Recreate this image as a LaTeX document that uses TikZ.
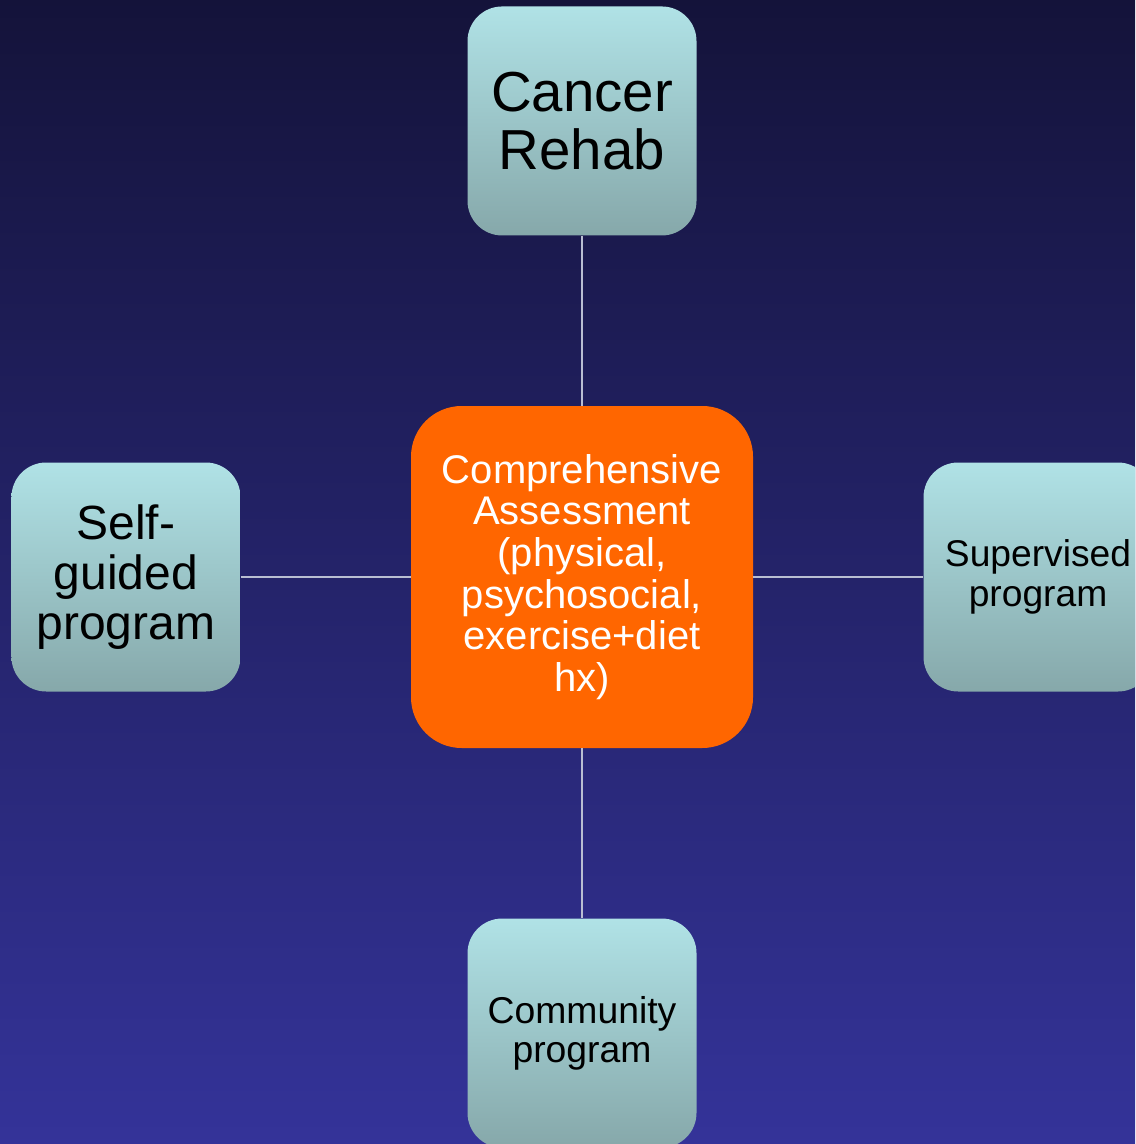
\documentclass[tikz,border=0pt]{standalone}
\usepackage{fontspec}
\setmainfont{Liberation Sans}
\usetikzlibrary{positioning}
\definecolor{bgtop}{RGB}{20,19,58}
\definecolor{bgbot}{RGB}{52,51,153}
\definecolor{boxtop}{RGB}{176,226,230}
\definecolor{boxbot}{RGB}{134,168,170}
\definecolor{hub}{RGB}{255,102,0}
\definecolor{wire}{RGB}{185,190,210}

\begin{document}
\begin{tikzpicture}[x=0.75pt,y=-0.75pt,
 B/.style={rounded corners=26pt,top color=boxtop,bottom color=boxbot,minimum width=171.75pt,minimum height=171.75pt,inner sep=0pt,align=center,text=black},
 W/.style={draw=wire,line width=1.1pt}]
 \fill[top color=bgtop,bottom color=bgbot] (0,0) rectangle (1135,1144);
 \clip (0,0) rectangle (1135,1144);
 \node[fill=hub,rounded corners=38pt,minimum width=256.5pt,minimum height=256.5pt,inner sep=0pt,align=center,text=white,font=\fontsize{30}{31.2}\selectfont](asm) at (582,577){Comprehensive\\Assessment\\(physical,\\psychosocial,\\exercise+diet\\hx)};
 \node[B,above=127.5pt of asm,font=\fontsize{42.3}{43}\selectfont](rehab){Cancer\\Rehab};
 \node[B,left=127.5pt of asm,font=\fontsize{36}{37.5}\selectfont](self){Self-\\guided\\program};
 \node[B,right=127.5pt of asm,font=\fontsize{27.9}{30}\selectfont](sup){Supervised\\program};
 \node[B,below=127.5pt of asm,font=\fontsize{28}{29}\selectfont](comm){Community\\program};
 \draw[W](rehab)--(asm);
 \draw[W](self)--(asm);
 \draw[W](asm)--(sup);
 \draw[W](asm)--(comm);
\end{tikzpicture}
\end{document}
